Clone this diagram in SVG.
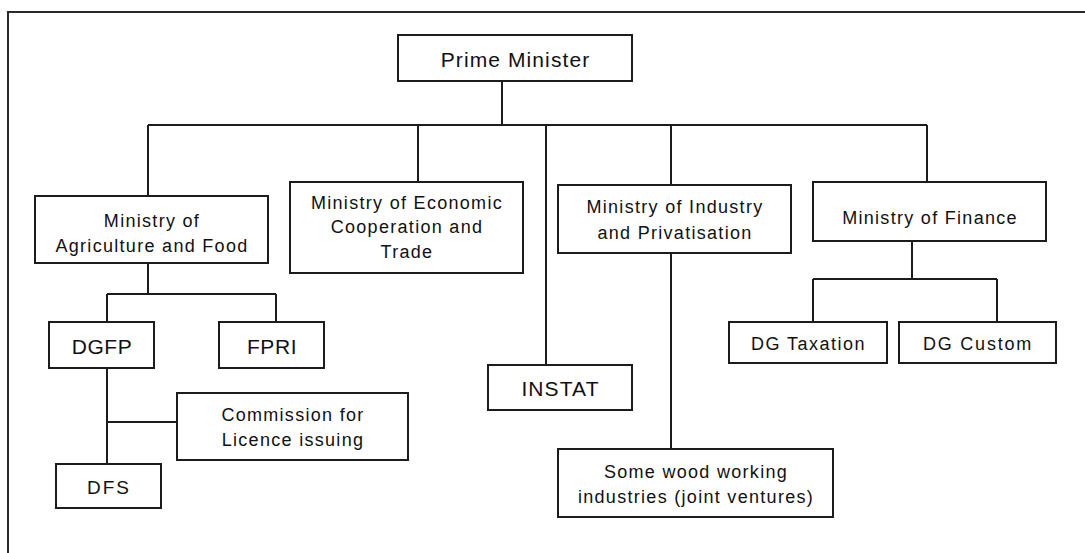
<svg xmlns="http://www.w3.org/2000/svg" width="1085" height="553" viewBox="0 0 1085 553">
  <style>
    .box { fill: #ffffff; stroke: #1c1c1c; stroke-width: 2; }
    .wire { fill: none; stroke: #1c1c1c; stroke-width: 2; }
    .frame { fill: none; stroke: #2a2a2a; stroke-width: 2; }
    text { font-family: "Liberation Sans", Arial, sans-serif; fill: #111111; text-anchor: middle; }
    .t { font-size: 18px; letter-spacing: 1.3px; }
    .big { font-size: 21px; letter-spacing: 1.1px; }
  </style>

  <rect width="1085" height="553" fill="#ffffff"/>
  <!-- outer frame (only its left and top edges fall inside the canvas) -->
  <path class="frame" d="M8,553 V12 H1085"/>

  <g id="connectors">
    <!-- Prime Minister to ministries -->
    <path class="wire" d="M502,81 V125"/>
    <path class="wire" d="M148,125 H927"/>
    <path class="wire" d="M148,125 V196"/>
    <path class="wire" d="M418,125 V182"/>
    <path class="wire" d="M546,125 V365"/>
    <path class="wire" d="M671,125 V185"/>
    <path class="wire" d="M927,125 V182"/>
    <!-- Agriculture and Food branch -->
    <path class="wire" d="M148,263 V294"/>
    <path class="wire" d="M107,294 H276"/>
    <path class="wire" d="M107,294 V322"/>
    <path class="wire" d="M276,294 V322"/>
    <path class="wire" d="M107,368 V464"/>
    <path class="wire" d="M107,422 H177"/>
    <!-- Industry branch -->
    <path class="wire" d="M671,253 V449"/>
    <!-- Finance branch -->
    <path class="wire" d="M912,241 V279"/>
    <path class="wire" d="M813,279 H997"/>
    <path class="wire" d="M813,279 V322"/>
    <path class="wire" d="M997,279 V322"/>
  </g>

  <g id="prime-minister">
    <rect class="box" x="398" y="35" width="234" height="46"/>
    <text class="big" x="515.5" y="67">Prime Minister</text>
  </g>

  <g id="ministry-agriculture">
    <rect class="box" x="35" y="196" width="233" height="67"/>
    <text class="t" x="152" y="227">Ministry of</text>
    <text class="t" x="152" y="252">Agriculture and Food</text>
  </g>

  <g id="ministry-economic">
    <rect class="box" x="290" y="182" width="233" height="91"/>
    <text class="t" x="407" y="209">Ministry of Economic</text>
    <text class="t" x="407" y="233">Cooperation and</text>
    <text class="t" x="407" y="258">Trade</text>
  </g>

  <g id="instat">
    <rect class="box" x="488" y="365" width="144" height="45"/>
    <text class="big" x="560.5" y="396">INSTAT</text>
  </g>

  <g id="ministry-industry">
    <rect class="box" x="558" y="185" width="233" height="68"/>
    <text class="t" x="675" y="213">Ministry of Industry</text>
    <text class="t" x="675" y="239">and Privatisation</text>
  </g>

  <g id="ministry-finance">
    <rect class="box" x="813" y="182" width="233" height="59"/>
    <text class="t" x="930" y="224">Ministry of Finance</text>
  </g>

  <g id="dgfp">
    <rect class="box" x="49" y="322" width="105" height="46"/>
    <text class="big" x="102" y="354" style="letter-spacing:0.6px">DGFP</text>
  </g>

  <g id="fpri">
    <rect class="box" x="219" y="322" width="105" height="46"/>
    <text class="big" x="272" y="354" style="letter-spacing:0.6px">FPRI</text>
  </g>

  <g id="commission">
    <rect class="box" x="177" y="393" width="231" height="67"/>
    <text class="t" x="293" y="421">Commission for</text>
    <text class="t" x="293" y="446">Licence issuing</text>
  </g>

  <g id="dfs">
    <rect class="box" x="56" y="464" width="105" height="44"/>
    <text class="t" x="109" y="494" style="font-size:19px;letter-spacing:2px">DFS</text>
  </g>

  <g id="wood-industries">
    <rect class="box" x="558" y="449" width="275" height="68"/>
    <text class="t" x="696" y="478">Some wood working</text>
    <text class="t" x="696" y="503">industries (joint ventures)</text>
  </g>

  <g id="dg-taxation">
    <rect class="box" x="729" y="322" width="158" height="41"/>
    <text class="t" x="808.5" y="350" style="letter-spacing:1.5px">DG Taxation</text>
  </g>

  <g id="dg-custom">
    <rect class="box" x="899" y="322" width="157" height="41"/>
    <text class="t" x="978" y="350" style="letter-spacing:1.8px">DG Custom</text>
  </g>
</svg>
